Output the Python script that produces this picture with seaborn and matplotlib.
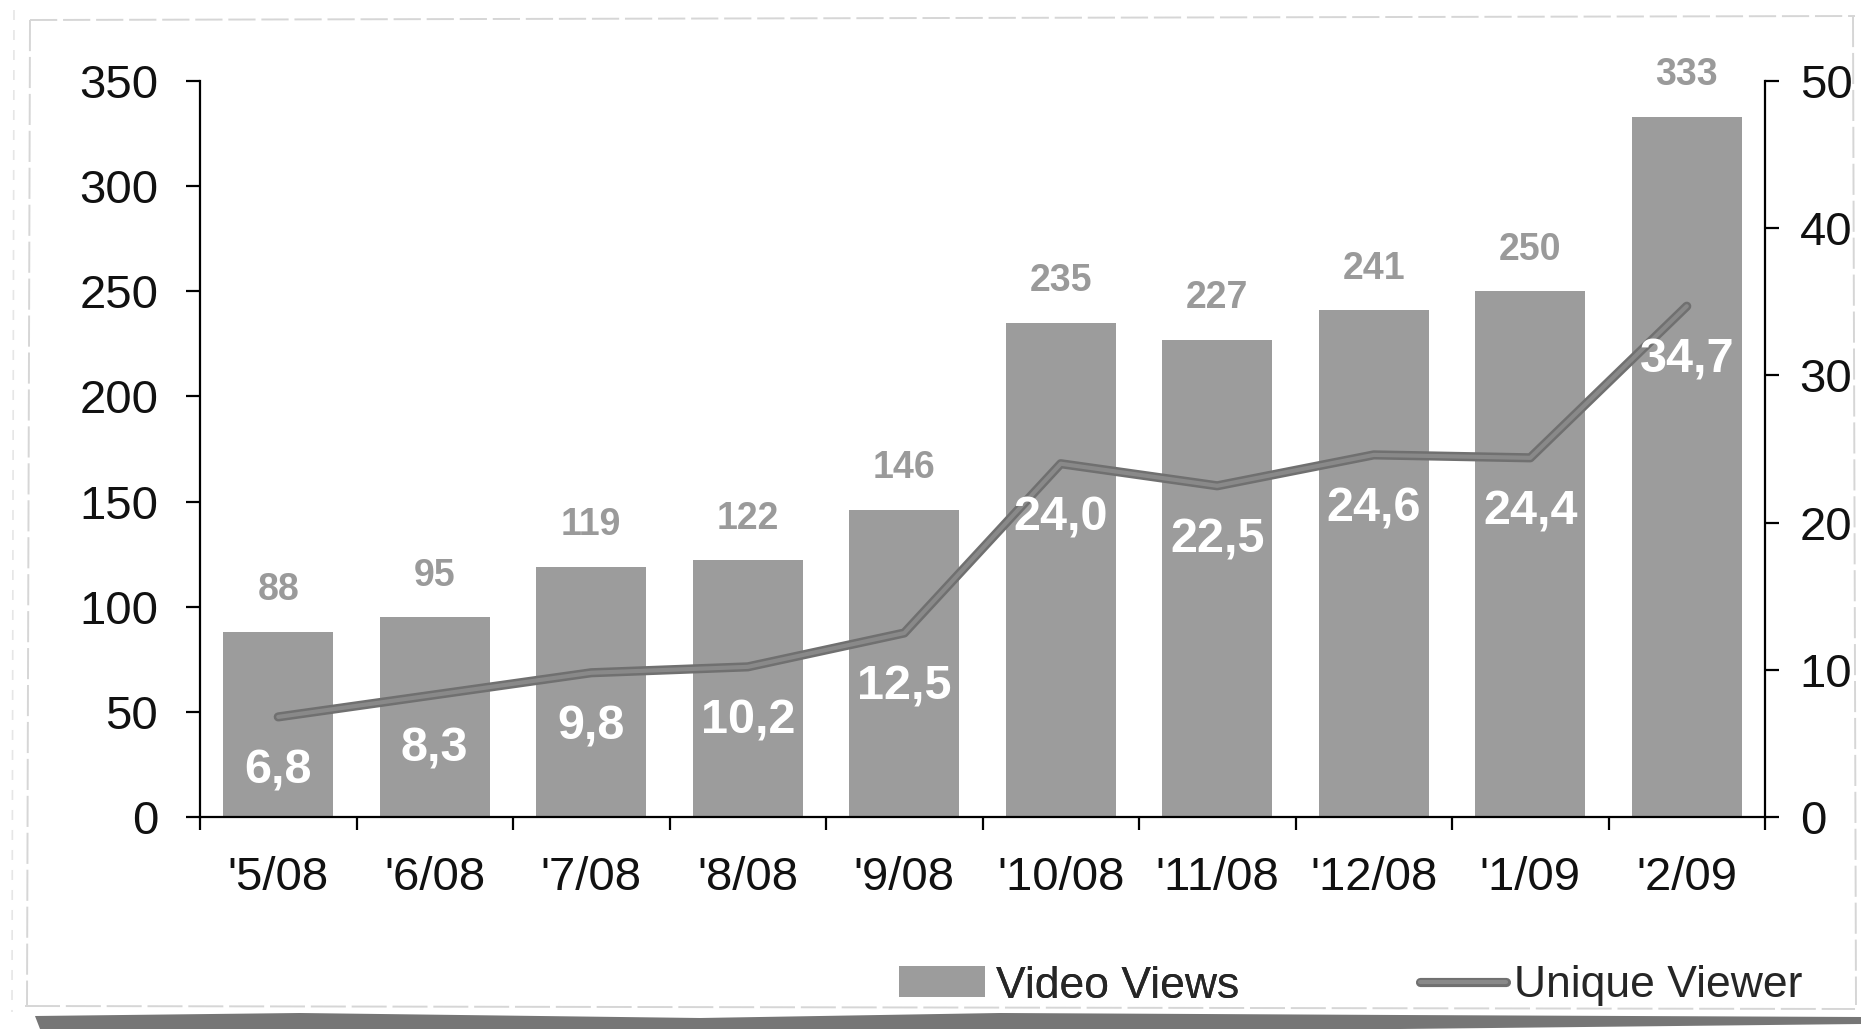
import numpy as np
import pandas as pd
import matplotlib
matplotlib.use("Agg")
import matplotlib.pyplot as plt
import matplotlib.patheffects as pe
from matplotlib.patches import Patch, Polygon
from matplotlib.lines import Line2D
import seaborn as sns

# ---- data ----
months = ["'5/08", "'6/08", "'7/08", "'8/08", "'9/08", "'10/08", "'11/08", "'12/08", "'1/09", "'2/09"]
video_views = [88, 95, 119, 122, 146, 235, 227, 241, 250, 333]
unique_viewer = [6.8, 8.3, 9.8, 10.2, 12.5, 24.0, 22.5, 24.6, 24.4, 34.7]
left_ticks = [0, 50, 100, 150, 200, 250, 300, 350]
right_ticks = [0, 10, 20, 30, 40, 50]

sns.set_theme(style="white")
plt.rcParams['font.family'] = ['Liberation Sans', 'DejaVu Sans']

W, H = 1861, 1029
fig = plt.figure(figsize=(W / 100, H / 100), dpi=100)
fig.patch.set_facecolor('white')
ax = fig.add_axes([200 / W, 1 - 817 / H, (1765 - 200) / W, (817 - 81) / H])
ax.set_facecolor('none')

BAR = '#9c9c9c'
df = pd.DataFrame({'month': months, 'views': video_views})
sns.barplot(data=df, x='month', y='views', color=BAR, saturation=1, width=0.70,
            linewidth=0, ax=ax, zorder=1)

ax2 = ax.twinx()
ax2.set_position(ax.get_position())
line_pe = [pe.Stroke(linewidth=6.6, foreground='#707070'), pe.Normal()]
x_idx = np.arange(len(months))
sns.lineplot(x=x_idx, y=unique_viewer, ax=ax2, color='#898989', linewidth=3.0,
             path_effects=line_pe, legend=False, sort=False, zorder=3)

ax.set_xlim(-0.5, len(months) - 0.5)
ax.set_ylim(0, 350)
ax2.set_ylim(0, 50)
ax.set_yticks(left_ticks)
ax.set_yticklabels([str(t) for t in left_ticks])
ax2.set_yticks(right_ticks)
ax2.set_yticklabels([str(t) for t in right_ticks])

# x ticks at category boundaries, labels at centres
ax.set_xticks(np.arange(-0.5, len(months), 1.0))
ax.set_xticklabels([''] * (len(months) + 1))
ax.set_xticks(x_idx, minor=True)
ax.set_xticklabels(months, minor=True)
ax.set_xlabel('')
ax.set_ylabel('')
ax2.set_ylabel('')

FS = 34
ax.tick_params(axis='x', which='major', direction='out', length=9.5, width=1.6, color='black',
               bottom=True)
ax.tick_params(axis='x', which='minor', length=0, pad=28, labelsize=FS, labelcolor='#111111',
               bottom=True)
ax.tick_params(axis='y', direction='out', length=10, width=1.6, color='black', pad=20,
               labelsize=FS, labelcolor='#111111', left=True)
ax2.tick_params(axis='y', direction='out', length=10, width=1.6, color='black', pad=15,
                labelsize=FS, labelcolor='#111111', right=True)

for a in (ax, ax2):
    for s in a.spines.values():
        s.set_visible(False)
for s in ('left', 'bottom'):
    ax.spines[s].set_visible(True)
    ax.spines[s].set_color('black')
    ax.spines[s].set_linewidth(1.6)
ax2.spines['right'].set_visible(True)
ax2.spines['right'].set_color('black')
ax2.spines['right'].set_linewidth(1.6)
ax.spines['bottom'].set_zorder(5)

# bar value labels
for i, v in enumerate(video_views):
    ax.annotate(str(v), (i, v), xytext=(0, 30), textcoords='offset points',
                ha='center', va='center', fontsize=27, fontweight='bold', color='#9a9a9a')

# line value labels
for i, v in enumerate(unique_viewer):
    ax2.annotate(f"{v:.1f}".replace('.', ','), (i, v), xytext=(0, -39), textcoords='offset points',
                 ha='center', va='center', fontsize=35, fontweight='bold', color='white', zorder=4)

# legends
LFS = 32
leg_y = 1 - 986 / H
fpx = LFS * 100 / 72
h1 = Patch(facecolor=BAR, edgecolor='none')
leg1 = ax.legend([h1], ['Video Views'], loc='center left', bbox_to_anchor=(899 / W, leg_y),
                 bbox_transform=fig.transFigure, frameon=False, fontsize=LFS, borderpad=0,
                 borderaxespad=0, handlelength=86 / fpx, handleheight=31 / fpx,
                 handletextpad=11 / fpx)
ax.add_artist(leg1)
h2 = Line2D([0], [0], color='#898989', linewidth=3.0, path_effects=line_pe)
leg2 = ax2.legend([h2], ['Unique Viewer'], loc='center left', bbox_to_anchor=(1420 / W, leg_y),
                  bbox_transform=fig.transFigure, frameon=False, fontsize=LFS, borderpad=0,
                  borderaxespad=0, handlelength=86 / fpx, handletextpad=8 / fpx)

# decorative paper frame
def fx(p):
    return p / W
def fy(p):
    return 1 - p / H
frame_kw = dict(transform=fig.transFigure, color='#d6d6d6', linewidth=1.4)
fig.add_artist(Line2D([fx(30), fx(1855)], [fy(20), fy(16)], linestyle=(0, (14, 3)), **frame_kw))
fig.add_artist(Line2D([fx(30), fx(27)], [fy(20), fy(1005)], linestyle=(0, (16, 3)), **frame_kw))
fig.add_artist(Line2D([fx(14), fx(12)], [fy(10), fy(1012)], linestyle=(0, (6, 6)),
                      transform=fig.transFigure, color='#e6e6e6', linewidth=1.2))
fig.add_artist(Line2D([fx(1853), fx(1856)], [fy(16), fy(1005)], linestyle=(0, (16, 3)), **frame_kw))
fig.add_artist(Line2D([fx(25), fx(1855)], [fy(1006), fy(1009)], linestyle=(0, (18, 3)), **frame_kw))
shadow_top = [(35, 1016), (300, 1013), (700, 1018), (1000, 1013), (1400, 1015), (1861, 1017)]
shadow_bot = [(1861, 1024), (1400, 1029), (1000, 1029), (600, 1029), (200, 1029), (40, 1029)]
pts = [(fx(x), fy(y)) for x, y in shadow_top + shadow_bot]
fig.add_artist(Polygon(pts, closed=True, transform=fig.transFigure, facecolor='#767676',
                       edgecolor='none'))

fig.savefig('out.png', dpi=100)
